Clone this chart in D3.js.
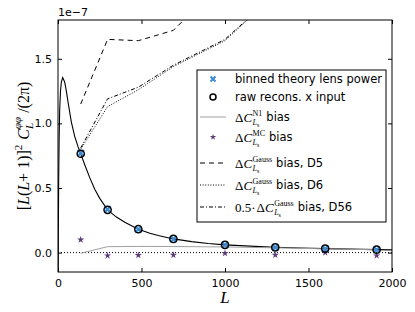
<!DOCTYPE html>
<html>
<head>
<meta charset="utf-8">
<script src="https://cdn.jsdelivr.net/npm/d3@7"></script>
<style>
  body { margin: 0; background: #fff; }
  svg { display: block; }
</style>
</head>
<body>
<div id="chart"></div>
<script>
// band centres and the measured spectra (units of 1e-7)
var binL = [136, 297, 481, 691, 1000, 1301, 1600, 1908];
var rawRecon = [0.765, 0.331, 0.181, 0.106, 0.060, 0.041, 0.031, 0.023];
var binnedTheory = [0.770, 0.334, 0.180, 0.105, 0.060, 0.040, 0.030, 0.022];
var biasN1 = [-0.005, 0.046, 0.048, 0.047, 0.044, 0.037, 0.029, 0.022];
var biasMC = [0.100, -0.023, -0.020, -0.018, -0.005, -0.018, 0.000, -0.023];
var biasD5 = [1.15, 1.65, 1.64, 1.72, 2.12, 2.60, 3.00, 3.40];
var biasD6 = [0.80, 1.13, 1.26, 1.44, 1.64, 2.00, 2.40, 2.80];
var biasD56 = [0.81, 1.19, 1.28, 1.45, 1.65, 2.00, 2.40, 2.80];

// theory curve
var theoryL = [1, 2, 4, 7, 10, 15, 20, 28, 40, 50, 62, 80, 100, 120, 136, 160, 190, 220, 250, 297, 350, 400, 481, 550, 600, 691, 800, 900, 1000, 1150, 1300, 1450, 1600, 1750, 1908, 2000];
var theoryC = [-0.2, 0.15, 0.55, 0.90, 1.10, 1.25, 1.32, 1.355, 1.32, 1.25, 1.15, 1.01, 0.90, 0.82, 0.765, 0.68, 0.58, 0.49, 0.42, 0.331, 0.275, 0.235, 0.181, 0.150, 0.133, 0.106, 0.085, 0.071, 0.060, 0.050, 0.041, 0.036, 0.031, 0.027, 0.023, 0.021];

var xTicks = [0, 500, 1000, 1500, 2000];
var yTicks = [0, 0.5, 1.0, 1.5];

var W = 415, H = 312;
var pL = 58, pR = 392, pT = 20, pB = 272;

var svg = d3.select('#chart').append('svg')
    .attr('width', W).attr('height', H);

var x = d3.scaleLinear().domain([0, 2000]).range([pL, pR]);
var y = d3.scaleLinear().domain([-0.15, 1.8]).range([pB, pT]);

svg.append('defs').append('clipPath').attr('id', 'clip')
   .append('rect').attr('x', pL).attr('y', pT)
   .attr('width', pR - pL).attr('height', pB - pT);

var plot = svg.append('g').attr('clip-path', 'url(#clip)');

var line = d3.line().x(function(d) { return x(d[0]); }).y(function(d) { return y(d[1]); });
function pairs(xs, ys) { return xs.map(function(v, i) { return [v, ys[i]]; }); }

// zero line
plot.append('path').attr('d', line([[0, 0], [2000, 0]]))
    .attr('fill', 'none').attr('stroke', '#000').attr('stroke-width', 1)
    .attr('stroke-dasharray', '1,2');

// theory
plot.append('path').attr('d', line(pairs(theoryL, theoryC)))
    .attr('fill', 'none').attr('stroke', '#000').attr('stroke-width', 1.1);

// N1 bias
plot.append('path').attr('d', line(pairs(binL, biasN1)))
    .attr('fill', 'none').attr('stroke', '#a0a0a0').attr('stroke-width', 1);

// gaussian biases
plot.append('path').attr('d', line(pairs(binL, biasD5)))
    .attr('fill', 'none').attr('stroke', '#000').attr('stroke-width', 1)
    .attr('stroke-dasharray', '5,4');
plot.append('path').attr('d', line(pairs(binL, biasD6)))
    .attr('fill', 'none').attr('stroke', '#000').attr('stroke-width', 1)
    .attr('stroke-dasharray', '1,1.6');
plot.append('path').attr('d', line(pairs(binL, biasD56)))
    .attr('fill', 'none').attr('stroke', '#000').attr('stroke-width', 1)
    .attr('stroke-dasharray', '4,2,1,2');

var blue = '#3a8ad6', purple = '#5e3c7c';
var cross = d3.symbol().type(d3.symbolX).size(28);
var star = d3.symbol().type(d3.symbolStar).size(16);

// MC bias stars
plot.selectAll('.mc').data(pairs(binL, biasMC)).enter().append('path')
    .attr('transform', function(d) { return 'translate(' + x(d[0]) + ',' + y(d[1]) + ')'; })
    .attr('d', star).attr('fill', purple);

// binned theory crosses
plot.selectAll('.bt').data(pairs(binL, binnedTheory)).enter().append('path')
    .attr('transform', function(d) { return 'translate(' + x(d[0]) + ',' + y(d[1]) + ')'; })
    .attr('d', cross).attr('fill', 'none').attr('stroke', blue).attr('stroke-width', 2.2);

// raw reconstruction circles
plot.selectAll('.rr').data(pairs(binL, rawRecon)).enter().append('circle')
    .attr('cx', function(d) { return x(d[0]); }).attr('cy', function(d) { return y(d[1]); })
    .attr('r', 3.6).attr('fill', 'none').attr('stroke', '#000').attr('stroke-width', 1.5);

// frame and inward ticks
svg.append('rect').attr('x', pL).attr('y', pT)
   .attr('width', pR - pL).attr('height', pB - pT)
   .attr('fill', 'none').attr('stroke', '#000').attr('stroke-width', 1);

var ax = svg.append('g').attr('transform', 'translate(0,' + pB + ')')
    .call(d3.axisBottom(x).tickValues(xTicks).tickSize(-4).tickPadding(7).tickFormat(d3.format('d')));
var axTop = svg.append('g').attr('transform', 'translate(0,' + pT + ')')
    .call(d3.axisTop(x).tickValues(xTicks).tickSize(-4).tickFormat(''));
var ay = svg.append('g').attr('transform', 'translate(' + pL + ',0)')
    .call(d3.axisLeft(y).tickValues(yTicks).tickSize(-4).tickPadding(6).tickFormat(d3.format('.1f')));
var ayR = svg.append('g').attr('transform', 'translate(' + pR + ',0)')
    .call(d3.axisRight(y).tickValues(yTicks).tickSize(-4).tickFormat(''));

[ax, axTop, ay, ayR].forEach(function(g) {
  g.select('.domain').remove();
  g.selectAll('text').attr('font-family', 'DejaVu Sans').attr('font-size', 11).attr('fill', '#000');
});
ax.selectAll('text').attr('dy', '0.71em');

svg.append('text').attr('x', pL).attr('y', 16)
   .attr('font-family', 'DejaVu Sans').attr('font-size', 11)
   .text('1e\u22127');

// axis labels
svg.append('text').attr('x', (pL + pR) / 2).attr('y', 303)
   .attr('text-anchor', 'middle').attr('font-family', 'Liberation Serif')
   .attr('font-style', 'italic').attr('font-size', 17).text('L');

// y label: pieces laid out along a rotated group
var yg = svg.append('g');
var cur = 0;
function piece(str, size, dy, italic, advance) {
  var t = yg.append('text').attr('x', cur).attr('y', dy)
    .attr('font-family', 'Liberation Serif').attr('font-size', size)
    .attr('font-style', italic ? 'italic' : 'normal').text(str);
  var w = t.node().getComputedTextLength();
  if (advance !== false) cur += w;
  return w;
}
piece('[', 16, 0);
piece('L', 16, 0, true);
piece('(', 16, 0);
piece('L', 16, 0, true);
piece(' + 1)]', 16, 0);
piece('2', 11, -7);
cur += 5;
piece('C', 16, 0, true);
var wSup = piece('\u03c6\u03c6', 11, -8, true, false);
var wSub = piece('L', 11, 4, true, false);
cur += Math.max(wSup, wSub) + 4;
piece('/(2\u03c0)', 16, 0);
yg.attr('transform', 'translate(29,' + ((pT + pB) / 2 + cur / 2) + ') rotate(-90)');

// legend
var lg = svg.append('g');
lg.append('rect').attr('x', 197).attr('y', 70).attr('width', 189).attr('height', 152)
  .attr('fill', '#fff').attr('stroke', '#000').attr('stroke-width', 1);

var rowY = [79, 97, 117, 137, 163, 185, 207];
var mx = 213, tx = 235;

function sample(yp, dash, col) {
  lg.append('line').attr('x1', 200).attr('x2', 226).attr('y1', yp).attr('y2', yp)
    .attr('stroke', col).attr('stroke-width', 1).attr('stroke-dasharray', dash);
}

lg.append('path').attr('transform', 'translate(' + mx + ',' + rowY[0] + ')')
  .attr('d', d3.symbol().type(d3.symbolX).size(18)).attr('fill', 'none').attr('stroke', blue).attr('stroke-width', 2);
lg.append('circle').attr('cx', mx).attr('cy', rowY[1]).attr('r', 3)
  .attr('fill', 'none').attr('stroke', '#000').attr('stroke-width', 1.5);
sample(rowY[2], null, '#a0a0a0');
lg.append('path').attr('transform', 'translate(' + mx + ',' + rowY[3] + ')')
  .attr('d', d3.symbol().type(d3.symbolStar).size(12)).attr('fill', purple);
sample(rowY[4], '5,4', '#000');
sample(rowY[5], '1,1.6', '#000');
sample(rowY[6], '4,2,1,2', '#000');

function plainText(xp, yp, str) {
  return lg.append('text').attr('x', xp).attr('y', yp).attr('dy', '0.35em')
    .attr('font-family', 'DejaVu Sans').attr('font-size', 11.5).text(str);
}
plainText(tx, rowY[0], 'binned theory lens power');
plainText(tx, rowY[1], 'raw recons. x input');

function deltaC(xp, yp, prefix, sup, rest) {
  var cx = xp;
  if (prefix) {
    var p = lg.append('text').attr('x', cx).attr('y', yp).attr('dy', '0.35em')
      .attr('font-family', 'Liberation Serif').attr('font-size', 13).text(prefix);
    cx += p.node().getComputedTextLength() + 1;
  }
  var t = lg.append('text').attr('x', cx).attr('y', yp).attr('dy', '0.35em')
    .attr('font-family', 'Liberation Serif').attr('font-size', 13);
  t.append('tspan').text('\u0394');
  t.append('tspan').attr('font-style', 'italic').text('C');
  cx += t.node().getComputedTextLength() + 0.5;
  var su = lg.append('text').attr('x', cx).attr('y', yp - 1)
    .attr('font-family', 'Liberation Serif').attr('font-size', 8).text(sup);
  var sb = lg.append('text').attr('x', cx).attr('y', yp + 8)
    .attr('font-family', 'Liberation Serif').attr('font-size', 8);
  sb.append('tspan').attr('font-style', 'italic').text('L');
  sb.append('tspan').attr('font-size', 6).attr('dy', 2).text('s');
  cx += Math.max(su.node().getComputedTextLength(), sb.node().getComputedTextLength()) + 4;
  plainText(cx, yp, rest);
}
deltaC(tx, rowY[2], null, 'N1', 'bias');
deltaC(tx, rowY[3], null, 'MC', 'bias');
deltaC(tx, rowY[4], null, 'Gauss', 'bias, D5');
deltaC(tx, rowY[5], null, 'Gauss', 'bias, D6');
deltaC(tx, rowY[6], '0.5\u00b7', 'Gauss', 'bias, D56');
</script>
</body>
</html>
